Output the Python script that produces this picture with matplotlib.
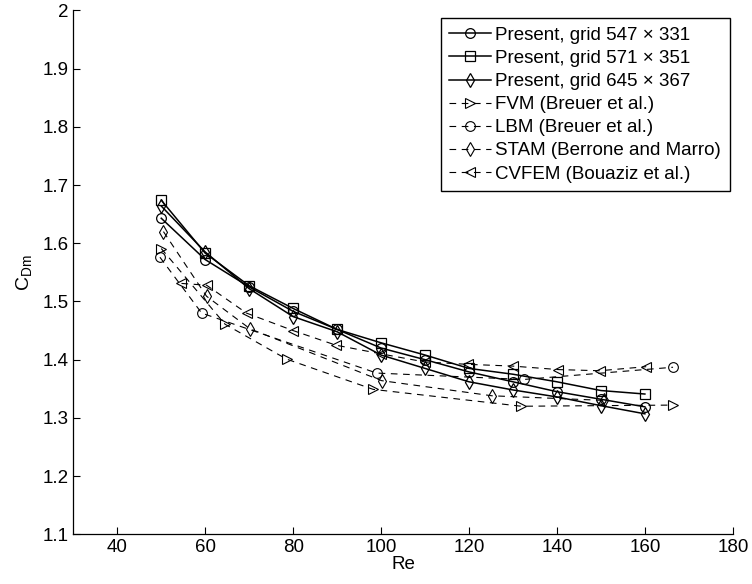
import matplotlib
matplotlib.use("Agg")
import matplotlib.pyplot as plt

plt.rcParams['font.family'] = ['Liberation Sans', 'DejaVu Sans']
plt.rcParams['mathtext.default'] = 'regular'

# Present results (Re every 10 from 50 to 160)
re_present = [50, 60, 70, 80, 90, 100, 110, 120, 130, 140, 150, 160]
cd_547 = [1.643, 1.572, 1.525, 1.483, 1.452, 1.420, 1.400, 1.379, 1.362, 1.345, 1.332, 1.319]
cd_571 = [1.674, 1.583, 1.527, 1.488, 1.452, 1.429, 1.408, 1.385, 1.375, 1.362, 1.347, 1.341]
cd_645 = [1.664, 1.585, 1.522, 1.474, 1.448, 1.408, 1.385, 1.362, 1.348, 1.336, 1.321, 1.307]

# Reference data
re_fvm = [50, 64.5, 78.5, 98.2, 131.9, 166.4]
cd_fvm = [1.591, 1.461, 1.401, 1.349, 1.320, 1.322]

re_lbm = [49.7, 59.2, 99.0, 132.4, 166.4]
cd_lbm = [1.576, 1.480, 1.377, 1.366, 1.387]

re_stam = [50.5, 60.3, 70.2, 100.1, 125.2, 150.8]
cd_stam = [1.620, 1.509, 1.453, 1.364, 1.338, 1.330]

re_cvfem = [54.6, 60.3, 69.4, 80.0, 89.7, 100.0, 110.0, 119.8, 129.9, 140.3, 149.7, 160.3]
cd_cvfem = [1.531, 1.528, 1.480, 1.450, 1.425, 1.410, 1.396, 1.392, 1.389, 1.383, 1.381, 1.388]

labels = ['Present, grid 547 × 331', 'Present, grid 571 × 351', 'Present, grid 645 × 367',
          'FVM (Breuer et al.)', 'LBM (Breuer et al.)', 'STAM (Berrone and Marro)',
          'CVFEM (Bouaziz et al.)']

xticks = [40, 60, 80, 100, 120, 140, 160, 180]
yticks = [1.1, 1.2, 1.3, 1.4, 1.5, 1.6, 1.7, 1.8, 1.9, 2.0]
ytick_labels = ['1.1', '1.2', '1.3', '1.4', '1.5', '1.6', '1.7', '1.8', '1.9', '2']

fig = plt.figure(figsize=(7.52, 5.84), dpi=100)
ax = fig.add_axes([0.0975, 0.0851, 0.877, 0.897])

solid = dict(color='black', lw=1.1, mfc='none', mec='black', mew=0.9)
dashed = dict(color='black', lw=0.8, ls=(0, (6, 5)), mfc='none', mec='black', mew=0.8)

ax.plot(re_present, cd_547, marker='o', ms=7, label=labels[0], **solid)
ax.plot(re_present, cd_571, marker='s', ms=6.5, label=labels[1], **solid)
ax.plot(re_present, cd_645, marker='d', ms=7.5, label=labels[2], **solid)
ax.plot(re_fvm, cd_fvm, marker='>', ms=7.5, label=labels[3], **dashed)
ax.plot(re_lbm, cd_lbm, marker='o', ms=7, label=labels[4], **dashed)
ax.plot(re_stam, cd_stam, marker='d', ms=7.5, label=labels[5], **dashed)
ax.plot(re_cvfem, cd_cvfem, marker='<', ms=7.5, label=labels[6], **dashed)

ax.set_xlim(30, 180)
ax.set_ylim(1.1, 2.0)
ax.set_xticks(xticks)
ax.set_yticks(yticks)
ax.set_yticklabels(ytick_labels)
ax.tick_params(direction='in', length=5, width=0.8, labelsize=13.5, colors='black')
for s in ['top', 'right']:
    ax.spines[s].set_visible(False)
for s in ['left', 'bottom']:
    ax.spines[s].set_linewidth(0.9)

ax.set_xlabel('Re', fontsize=13.5, labelpad=0)
ax.set_ylabel('C$_{Dm}$', fontsize=14, labelpad=6)

leg = ax.legend(loc='upper right', bbox_to_anchor=(0.995, 0.985), fontsize=13.5,
                frameon=True, fancybox=False, edgecolor='black', framealpha=1,
                handlelength=2.2, handletextpad=0.25, labelspacing=0.32,
                borderpad=0.45, borderaxespad=0.0)
leg.get_frame().set_linewidth(1.0)

fig.savefig('out.png', dpi=100)
